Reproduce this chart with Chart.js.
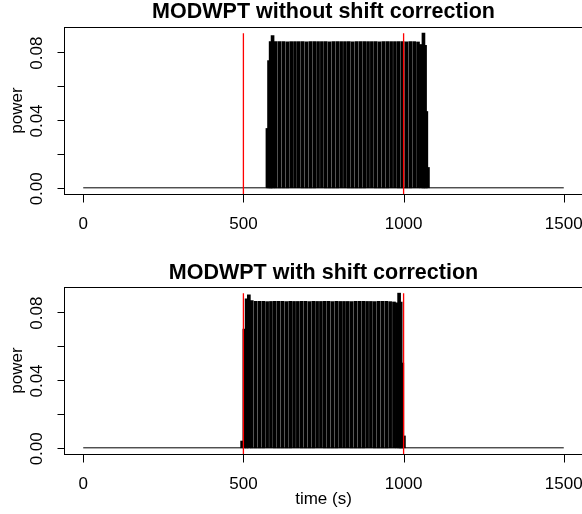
<!DOCTYPE html>
<html><head><meta charset="utf-8">
<script src="https://cdn.jsdelivr.net/npm/chart.js@4/dist/chart.umd.min.js"></script>
<style>
html,body{margin:0;padding:0;background:#fff;overflow:hidden;width:582px;height:514px}
canvas{position:absolute;left:0}
</style></head><body>
<canvas id="c1" width="584" height="260" style="top:0px"></canvas>
<canvas id="c2" width="584" height="254" style="top:260px"></canvas>
<script>
// ---- data ----
const titleTop = 'MODWPT without shift correction';
const titleBottom = 'MODWPT with shift correction';
const xAxisTitle = 'time (s)';
const yAxisTitle = 'power';
const xTicks = [0, 500, 1000, 1500];
const xTickLabels = ['0', '500', '1000', '1500'];
const yTicks = [0, 0.02, 0.04, 0.06, 0.08];
const yTickLabels = ['0.00', '', '0.04', '', '0.08'];
const markerTimes = [500, 1000];
const markerTop = 0.0912;

// top panel (without shift correction): burst samples
const timesTop = [575, 580, 585, 591, 601, 613, 625, 637, 649, 661, 673, 685, 697, 709, 721, 733, 745, 757, 769, 781, 793, 805, 817, 829, 841, 853, 865, 877, 889, 901, 913, 925, 937, 949, 961, 973, 985, 997, 1009, 1021, 1033, 1045, 1054, 1062, 1067, 1071, 1076];
const powerTop = [0.035, 0.075, 0.0862, 0.0897, 0.0862, 0.0862, 0.0862, 0.0861, 0.0862, 0.0862, 0.0862, 0.0862, 0.0861, 0.0862, 0.0862, 0.0862, 0.0862, 0.0862, 0.0861, 0.0862, 0.0862, 0.0862, 0.0862, 0.0862, 0.0861, 0.0862, 0.0862, 0.0862, 0.0862, 0.0862, 0.0862, 0.0861, 0.0862, 0.0862, 0.0862, 0.0862, 0.0862, 0.0862, 0.0861, 0.0862, 0.0862, 0.0860, 0.0845, 0.0912, 0.0840, 0.0450, 0.0120];
const baseTimesTop = [0, 570, 1078, 1500];
const basePowerTop = [0, 0, 0, 0];

// bottom panel (with shift correction): burst samples
const timesBottom = [496, 503, 510, 517, 526, 538, 550, 562, 574, 586, 598, 610, 622, 634, 646, 658, 670, 682, 694, 706, 718, 730, 742, 754, 766, 778, 790, 802, 814, 826, 838, 850, 862, 874, 886, 898, 910, 922, 934, 946, 958, 970, 979, 986, 991, 996, 1001];
const powerBottom = [0.004, 0.070, 0.0878, 0.0902, 0.0868, 0.0863, 0.0863, 0.0863, 0.0862, 0.0863, 0.0863, 0.0863, 0.0863, 0.0862, 0.0863, 0.0863, 0.0863, 0.0863, 0.0863, 0.0862, 0.0863, 0.0863, 0.0863, 0.0863, 0.0863, 0.0862, 0.0863, 0.0863, 0.0863, 0.0863, 0.0862, 0.0863, 0.0863, 0.0863, 0.0863, 0.0863, 0.0862, 0.0863, 0.0863, 0.0863, 0.0862, 0.0860, 0.0855, 0.0912, 0.0860, 0.0500, 0.0070];
const baseTimesBottom = [0, 494, 1003, 1500];
const basePowerBottom = [0, 0, 0, 0];

// ---- rendering ----
const FONT = '"Liberation Sans", Arial, Helvetica, sans-serif';
const X_MIN = -60, X_MAX = 1560;
const Y_MIN = -0.003647, Y_MAX = 0.09482;

const rAxes = {
  id: 'rAxes',
  afterDraw(chart, args, o) {
    const {ctx, chartArea: a, scales: {x, y}} = chart;
    ctx.save();
    ctx.strokeStyle = '#000';
    ctx.lineWidth = 1;
    ctx.strokeRect(a.left + 0.5, a.top + 0.5, a.right - a.left, a.bottom - a.top);
    const xp = v => Math.round(x.getPixelForValue(v)) + 0.5;
    const yp = v => Math.round(y.getPixelForValue(v)) + 0.5;
    const by = a.bottom + 0.5;
    ctx.beginPath();
    ctx.moveTo(xp(xTicks[0]), by); ctx.lineTo(xp(xTicks[xTicks.length - 1]), by);
    xTicks.forEach(t => { ctx.moveTo(xp(t), by); ctx.lineTo(xp(t), by + 8); });
    const lx = a.left + 0.5;
    ctx.moveTo(lx, yp(yTicks[0])); ctx.lineTo(lx, yp(yTicks[yTicks.length - 1]));
    yTicks.forEach(t => { ctx.moveTo(lx, yp(t)); ctx.lineTo(lx - 7, yp(t)); });
    ctx.stroke();
    ctx.fillStyle = '#000';
    ctx.font = '17px ' + FONT;
    ctx.textAlign = 'center';
    ctx.textBaseline = 'alphabetic';
    xTicks.forEach((t, i) => ctx.fillText(xTickLabels[i], x.getPixelForValue(t), a.bottom + 34.5));
    yTicks.forEach((t, i) => {
      if (!yTickLabels[i]) return;
      ctx.save();
      ctx.translate(42, y.getPixelForValue(t) + 1);
      ctx.rotate(-Math.PI / 2);
      ctx.fillText(yTickLabels[i], 0, 0);
      ctx.restore();
    });
    ctx.save();
    ctx.translate(21.5, (a.top + a.bottom) / 2);
    ctx.rotate(-Math.PI / 2);
    ctx.fillText(yAxisTitle, 0, 0);
    ctx.restore();
    if (o.xTitle) ctx.fillText(o.xTitle, (a.left + a.right) / 2, o.xTitleY);
    ctx.font = 'bold 21.5px ' + FONT;
    ctx.fillText(o.title, (a.left + a.right) / 2, o.titleY);
    ctx.restore();
  }
};

function makeChart(id, h, times, power, bt, bp, title, titleY, xTitle, xTitleY) {
  const markers = markerTimes.map(t => ({
    type: 'line',
    data: [{x: t, y: Y_MIN - 1}, {x: t, y: markerTop}],
    borderColor: '#ff0000', borderWidth: 1.3, pointRadius: 0, fill: false, order: 0
  }));
  return new Chart(document.getElementById(id), {
    type: 'bar',
    data: {
      datasets: [
        {type: 'line', data: bt.map((t, i) => ({x: t, y: bp[i]})), borderColor: '#000', borderWidth: 1,
         pointRadius: 0, fill: false, order: 3},
        {type: 'bar', data: times.map((t, i) => ({x: t, y: power[i]})), backgroundColor: '#000',
         borderWidth: 0, barThickness: 3, order: 2},
        ...markers
      ]
    },
    options: {
      responsive: false, animation: false, events: [],
      layout: {padding: {left: 64, top: 27, right: 1, bottom: h - 194}},
      plugins: {legend: {display: false}, tooltip: {enabled: false},
        rAxes: {title, titleY, xTitle, xTitleY}},
      scales: {
        x: {type: 'linear', min: X_MIN, max: X_MAX, display: false, offset: false, grid: {display: false}},
        y: {type: 'linear', min: Y_MIN, max: Y_MAX, display: false}
      }
    },
    plugins: [rAxes]
  });
}

makeChart('c1', 260, timesTop, powerTop, baseTimesTop, basePowerTop, titleTop, 18, null, 0);
makeChart('c2', 254, timesBottom, powerBottom, baseTimesBottom, basePowerBottom, titleBottom, 19, xAxisTitle, 244);
</script>
</body></html>
